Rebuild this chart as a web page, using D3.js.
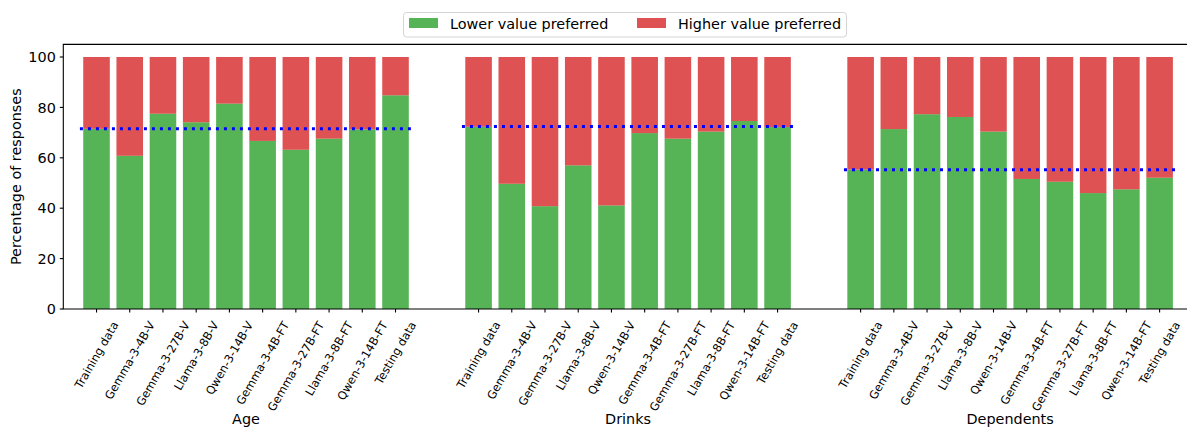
<!DOCTYPE html>
<html>
<head>
<meta charset="utf-8">
<script src="https://cdn.jsdelivr.net/npm/d3@7"></script>
<style>
  html, body { margin: 0; padding: 0; background: #fff; }
  svg { display: block; font-family: "DejaVu Sans", sans-serif; }
</style>
</head>
<body>
<svg id="chart" width="1187" height="429"></svg>
<script>
const models = ["Training data","Gemma-3-4B-V","Gemma-3-27B-V","Llama-3-8B-V","Qwen-3-14B-V","Gemma-3-4B-FT","Gemma-3-27B-FT","Llama-3-8B-FT","Qwen-3-14B-FT","Testing data"];
const groups = ["Age","Drinks","Dependents"];
const ageLower = [71.5,60.8,77.5,74.1,81.5,66.7,63.2,67.6,71.3,84.8];
const drinksLower = [72.3,49.7,40.8,57.0,41.1,69.8,67.6,70.4,74.6,72.2];
const dependentsLower = [55.3,71.4,77.3,76.2,70.4,51.6,50.5,46.0,47.5,52.1];
const trainingRef = [71.5,72.4,55.3];
const yTicks = [0,20,40,60,80,100];
const seriesNames = ["Lower value preferred","Higher value preferred"];
const seriesColors = ["#2ca02c","#d62728"];

const lowerByGroup = [ageLower, drinksLower, dependentsLower];
const groupStep = 11.5;
const barW = 0.8;
const fs = 14.4, fsSmall = 11.5;

const svg = d3.select("#chart");
const x = d3.scaleLinear().domain([-1, 32]).range([63.3, 1159.6]);
const y = d3.scaleLinear().domain([0, 105]).range([309, 44.4]);

const rows = [];
groups.forEach((g, gi) => {
  models.forEach((m, i) => {
    const lo = lowerByGroup[gi][i];
    rows.push({group: g, gi, model: m, pos: gi * groupStep + i, lower: lo, higher: 100 - lo});
  });
});

const stacked = d3.stack().keys(["lower","higher"])(rows);

svg.append("g").selectAll("g").data(stacked).join("g")
  .attr("fill", (d, i) => seriesColors[i])
  .attr("fill-opacity", 0.8)
  .selectAll("rect").data(d => d).join("rect")
  .attr("x", d => x(d.data.pos - barW / 2))
  .attr("width", d => x(barW) - x(0))
  .attr("y", d => y(d[1]))
  .attr("height", d => y(d[0]) - y(d[1]));

svg.append("g").selectAll("line").data(trainingRef).join("line")
  .attr("x1", (d, gi) => x(gi * groupStep - 0.5))
  .attr("x2", (d, gi) => x(gi * groupStep + models.length - 0.5))
  .attr("y1", d => y(d)).attr("y2", d => y(d))
  .attr("stroke", "#0000ff")
  .attr("stroke-width", 3)
  .attr("stroke-dasharray", "3,5");

const xr = x(33);
svg.append("path")
  .attr("d", `M${x(-1)},${y(0)}V${y(105)}H${xr}V${y(0)}Z`)
  .attr("fill", "none").attr("stroke", "#000").attr("stroke-width", 1.1);

const yAxis = svg.append("g");
yAxis.selectAll("line").data(yTicks).join("line")
  .attr("x1", x(-1) - 3.5).attr("x2", x(-1))
  .attr("y1", d => y(d)).attr("y2", d => y(d))
  .attr("stroke", "#000").attr("stroke-width", 1.1);
yAxis.selectAll("text").data(yTicks).join("text")
  .attr("x", x(-1) - 7.5).attr("y", d => y(d)).attr("dy", "0.36em")
  .attr("text-anchor", "end").attr("font-size", fs).attr("fill", "#000")
  .text(d => d);

svg.append("text")
  .attr("transform", `translate(21,${(y(0) + y(105)) / 2}) rotate(-90)`)
  .attr("text-anchor", "middle").attr("font-size", fs)
  .text("Percentage of responses");

const xAxis = svg.append("g");
xAxis.selectAll("line").data(rows).join("line")
  .attr("x1", d => x(d.pos)).attr("x2", d => x(d.pos))
  .attr("y1", y(0)).attr("y2", y(0) + 3.5)
  .attr("stroke", "#000").attr("stroke-width", 1.1);
const tl = xAxis.selectAll("text").data(rows).join("text")
  .attr("font-size", fsSmall).attr("text-anchor", "end").attr("dy", "0.35em")
  .text(d => d.model);
tl.each(function(d) {
  const L = this.getComputedTextLength();
  const ax = x(d.pos) + L / 4;
  const ay = 322.5;
  d3.select(this).attr("transform", `translate(${ax},${ay}) rotate(-60)`);
});

svg.append("g").selectAll("text").data(groups).join("text")
  .attr("x", (d, gi) => x(gi * groupStep + (models.length - 1) / 2))
  .attr("y", 424)
  .attr("text-anchor", "middle").attr("font-size", fs)
  .text(d => d);

const lg = svg.append("g");
lg.append("rect").attr("x", 403.5).attr("y", 12.5).attr("width", 443).attr("height", 24.5)
  .attr("rx", 3).attr("fill", "#fff").attr("fill-opacity", 0.8)
  .attr("stroke", "#d4d4d4").attr("stroke-width", 1);
const legX = [409, 637];
const items = lg.selectAll("g.item").data(seriesNames).join("g").attr("class", "item")
  .attr("transform", (d, i) => `translate(${legX[i]},0)`);
items.append("rect").attr("x", 0).attr("y", 18).attr("width", 29).attr("height", 10)
  .attr("fill", (d, i) => seriesColors[i]).attr("fill-opacity", 0.8);
items.append("text").attr("x", 41).attr("y", 23.5).attr("dy", "0.36em")
  .attr("font-size", fs).text(d => d);
</script>
</body>
</html>
